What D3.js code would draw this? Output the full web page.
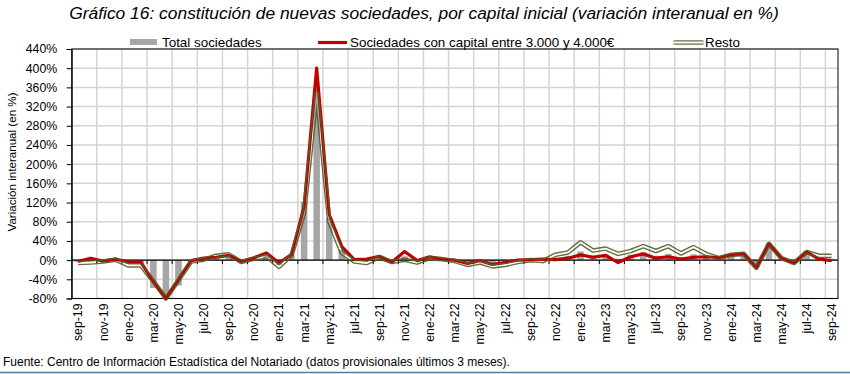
<!DOCTYPE html>
<html><head><meta charset="utf-8">
<script src="https://cdn.jsdelivr.net/npm/d3@7"></script>
<style>body{margin:0;background:#fff} svg{display:block}</style>
</head><body>
<svg id="c" width="850" height="374"></svg>
<script>
const months = ["sep-19","oct-19","nov-19","dic-19","ene-20","feb-20","mar-20","abr-20","may-20","jun-20","jul-20","ago-20",
"sep-20","oct-20","nov-20","dic-20","ene-21","feb-21","mar-21","abr-21","may-21","jun-21","jul-21","ago-21",
"sep-21","oct-21","nov-21","dic-21","ene-22","feb-22","mar-22","abr-22","may-22","jun-22","jul-22","ago-22",
"sep-22","oct-22","nov-22","dic-22","ene-23","feb-23","mar-23","abr-23","may-23","jun-23","jul-23","ago-23",
"sep-23","oct-23","nov-23","dic-23","ene-24","feb-24","mar-24","abr-24","may-24","jun-24","jul-24","ago-24","sep-24"];
const tickLabels = ["sep-19","nov-19","ene-20","mar-20","may-20","jul-20","sep-20","nov-20","ene-21","mar-21","may-21","jul-21",
"sep-21","nov-21","ene-22","mar-22","may-22","jul-22","sep-22","nov-22","ene-23","mar-23","may-23","jul-23","sep-23","nov-23",
"ene-24","mar-24","may-24","jul-24","sep-24"];
const totalSociedades = [-4,1,-2,1,-8,-7,-58,-80,-53,-2,2,8,
11,-3,4,11,-10,11,122,360,88,22,-1,-2,
7,-4,8,-3,5,2,-1,-8,-3,-11,-8,-2,
1,0,5,9,18,10,12,3,11,16,9,13,
6,12,9,4,11,12,-15,35,4,-5,17,4,3];
const capital3000a4000 = [-3,4,-2,2,-4,-4,-45,-80,-40,-1,4,6,
10,-3,5,15,-6,12,112,400,95,28,1,2,
8,-4,18,-1,7,2,0,-7,-1,-9,-5,0,
1,2,1,4,11,6,10,-5,7,13,4,7,
2,6,7,5,11,13,-16,34,4,-6,17,2,-1];
const resto = [-6,-5,-3,1,-11,-11,-44,-80,-42,-3,1,9,
12,-4,3,8,-14,10,98,348,80,15,-3,-6,
6,-4,1,-5,4,2,-2,-10,-5,-13,-10,-4,
0,-2,11,16,37,20,24,13,19,29,19,29,
14,27,13,4,11,13,-16,34,4,-6,17,9,9];
const yTicks = [-80,-40,0,40,80,120,160,200,240,280,320,360,400,440];
const seriesNames = ["Total sociedades","Sociedades con capital entre 3.000 y 4.000€","Resto"];

const svg = d3.select("#c");
const L = 71.7, R = 838, T = 49, B = 298.5;
const x = d3.scaleBand().domain(months).range([L, R]).paddingInner(0.48).paddingOuter(0.24);
const step = x.step();
const bandStart = m => x(m) - x.paddingInner()*step/2;
const cx = m => x(m) + x.bandwidth()/2;
const y = d3.scaleLinear().domain([-80, 440]).range([B, T]);
const font = "'Liberation Sans', Arial, sans-serif";
const olive = "#4f6228";

// title
svg.append("text").attr("x", 424).attr("y", 19).attr("text-anchor","middle")
  .attr("font-family", font).attr("font-style","italic").attr("font-size", 17.4).attr("fill","#000")
  .text("Gráfico 16: constitución de nuevas sociedades, por capital inicial (variación interanual en %)");

// gridlines
const grid = svg.append("g");
grid.selectAll("line.h").data(yTicks).join("line")
  .attr("x1", L).attr("x2", R).attr("y1", d => y(d)).attr("y2", d => y(d))
  .attr("stroke", "#d4d4d4").attr("stroke-width", 1.5);
const gridMonths = months.filter((m,i) => i % 2 === 0 && i > 0);
grid.selectAll("line.v").data(gridMonths).join("line")
  .attr("x1", d => bandStart(d)).attr("x2", d => bandStart(d)).attr("y1", T).attr("y2", B)
  .attr("stroke", "#d4d4d4").attr("stroke-width", 1.5);

// bars
svg.append("g").selectAll("rect").data(months).join("rect")
  .attr("x", d => x(d)).attr("width", x.bandwidth())
  .attr("y", (d,i) => y(Math.max(0, totalSociedades[i])))
  .attr("height", (d,i) => Math.abs(y(totalSociedades[i]) - y(0)))
  .attr("fill", "#a6a6a6");

// plot border
svg.append("rect").attr("x", L).attr("y", T).attr("width", R-L).attr("height", B-T)
  .attr("fill","none").attr("stroke","#000").attr("stroke-width",1);

// zero axis with ticks
svg.append("line").attr("x1", L).attr("x2", R).attr("y1", y(0)).attr("y2", y(0)).attr("stroke","#000").attr("stroke-width",1.2);
svg.append("g").selectAll("line").data(gridMonths).join("line")
  .attr("x1", d => bandStart(d)).attr("x2", d => bandStart(d)).attr("y1", y(0)).attr("y2", y(0)+4)
  .attr("stroke","#000").attr("stroke-width",1);

// y axis
const yAxis = d3.axisLeft(y).tickValues(yTicks).tickSize(5).tickPadding(9.5).tickFormat(d => d + "%");
const ga = svg.append("g").attr("transform", `translate(${L},0)`).call(yAxis);
ga.select(".domain").attr("stroke","#000");
ga.selectAll(".tick line").attr("stroke","#000");
ga.selectAll("text").attr("font-family", font).attr("font-size", 12.3).attr("fill","#000");

// x labels
svg.append("g").selectAll("text").data(tickLabels).join("text")
  .attr("transform", d => `translate(${cx(d)+4.5},${B+5}) rotate(-90)`)
  .attr("text-anchor","end").attr("font-family", font).attr("font-size", 12.3).attr("fill","#000")
  .text(d => d);

// y title
svg.append("text").attr("transform", "translate(16,162) rotate(-90)").attr("text-anchor","middle")
  .attr("font-family", font).attr("font-size", 11.6).attr("fill","#000").text("Variación interanual (en %)");

// mask for the double (compound) Resto line: transparent gap in the middle
const line = arr => d3.line().x((d,i) => cx(months[i])).y(d => y(d))(arr);
const defs = svg.append("defs");
const mk = defs.append("mask").attr("id","restoMask").attr("maskUnits","userSpaceOnUse")
  .attr("x",0).attr("y",0).attr("width",850).attr("height",374);
mk.append("path").attr("d", line(resto)).attr("fill","none").attr("stroke","#fff").attr("stroke-width",8).attr("stroke-linejoin","round");
mk.append("path").attr("d", line(resto)).attr("fill","none").attr("stroke","#000").attr("stroke-width",1.8).attr("stroke-linejoin","round");
const lm = defs.append("mask").attr("id","legMask").attr("maskUnits","userSpaceOnUse")
  .attr("x",0).attr("y",0).attr("width",850).attr("height",374);
lm.append("rect").attr("x",660).attr("y",30).attr("width",60).attr("height",25).attr("fill","#fff");
lm.append("line").attr("x1",670).attr("x2",708).attr("y1",42.5).attr("y2",42.5).attr("stroke","#000").attr("stroke-width",1.8);

// lines
svg.append("path").attr("d", line(capital3000a4000)).attr("fill","none")
  .attr("stroke","#c00000").attr("stroke-width",3.2).attr("stroke-linejoin","round");
svg.append("path").attr("d", line(resto)).attr("fill","none").attr("mask","url(#restoMask)")
  .attr("stroke",olive).attr("stroke-opacity",0.9).attr("stroke-width",4.6).attr("stroke-linejoin","round");

// legend
const lg = svg.append("g").attr("font-family", font).attr("font-size", 13.4).attr("fill","#000");
lg.append("rect").attr("x",130).attr("y",39).attr("width",27).attr("height",6).attr("fill","#a6a6a6");
lg.append("text").attr("x",162).attr("y",47).text(seriesNames[0]);
lg.append("line").attr("x1",318).attr("x2",347).attr("y1",42.5).attr("y2",42.5).attr("stroke","#c00000").attr("stroke-width",3.2);
lg.append("text").attr("x",350).attr("y",47).text(seriesNames[1]);
lg.append("line").attr("x1",675).attr("x2",702).attr("y1",42.5).attr("y2",42.5).attr("mask","url(#legMask)")
  .attr("stroke",olive).attr("stroke-opacity",0.9).attr("stroke-width",4.6).attr("stroke-linecap","round");
lg.append("text").attr("x",705).attr("y",47).text(seriesNames[2]);

// footer
svg.append("text").attr("x",3).attr("y",366).attr("font-family", font).attr("font-size",12).attr("fill","#000")
  .text("Fuente: Centro de Información Estadística del Notariado (datos provisionales últimos 3 meses).");
svg.append("line").attr("x1",0).attr("x2",850).attr("y1",372.5).attr("y2",372.5).attr("stroke","#5b7a99").attr("stroke-width",1.5);
</script>
</body></html>
